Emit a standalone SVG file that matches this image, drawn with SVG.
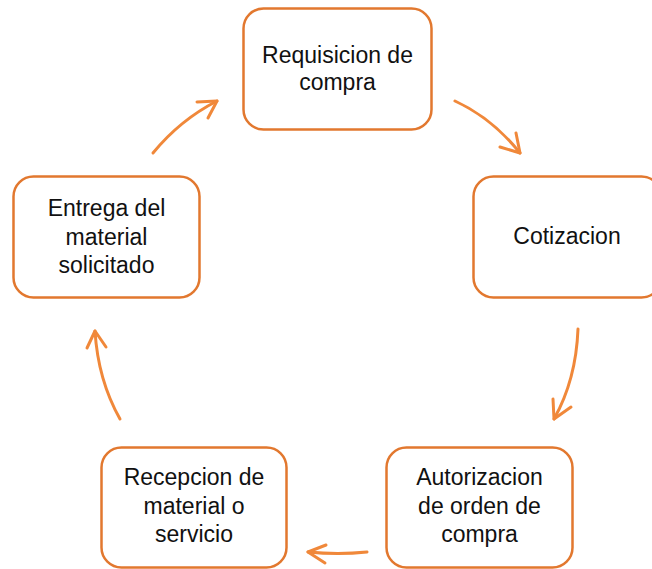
<svg xmlns="http://www.w3.org/2000/svg" width="652" height="569" viewBox="0 0 652 569">
<style>
.box{fill:#fff;stroke:#E2782F;stroke-width:2.5}
.t{font-family:"Liberation Sans",Arial,sans-serif;font-size:23px;fill:#111;text-anchor:middle}
.c{fill:none;stroke:#F0883A;stroke-width:3;stroke-linecap:round;stroke-linejoin:round}
</style>
<rect width="652" height="569" fill="#fff"/>
<g id="n1"><rect class="box" x="243.5" y="8.5" width="188" height="121" rx="20"/>
<text class="t" x="337.5" y="63">Requisicion de</text><text class="t" x="337.5" y="90">compra</text></g>
<g id="n2"><rect class="box" x="473.5" y="176.5" width="188" height="121" rx="20"/>
<text class="t" x="567" y="244">Cotizacion</text></g>
<g id="n3"><rect class="box" x="386.5" y="447.5" width="186" height="120" rx="20"/>
<text class="t" x="479.5" y="485">Autorizacion</text><text class="t" x="479.5" y="514">de orden de</text><text class="t" x="479.5" y="542">compra</text></g>
<g id="n4"><rect class="box" x="101.5" y="447.5" width="185" height="120" rx="20"/>
<text class="t" x="194" y="485">Recepcion de</text><text class="t" x="194" y="514">material o</text><text class="t" x="194" y="542">servicio</text></g>
<g id="n5"><rect class="box" x="13.5" y="176.5" width="186" height="121" rx="20"/>
<text class="t" x="106.5" y="216">Entrega del</text><text class="t" x="106.5" y="245">material</text><text class="t" x="106.5" y="273">solicitado</text></g>
<g id="connectors">
<path class="c" d="M455,101 Q492,118 520,153"/><polyline class="c" points="500,147 520,153 516,133"/>
<path class="c" d="M578,329 Q576,380 554,419"/><polyline class="c" points="553,399 554,419 571,407"/>
<path class="c" d="M367,552 Q338,555 308,552"/><polyline class="c" points="326,545 308,552 325,563"/>
<path class="c" d="M120,419 Q98,380 95,331"/><polyline class="c" points="87,348 95,331 106,347"/>
<path class="c" d="M153,153 Q180,120 217,101"/><polyline class="c" points="197,102 217,101 208,118"/>
</g>
</svg>
